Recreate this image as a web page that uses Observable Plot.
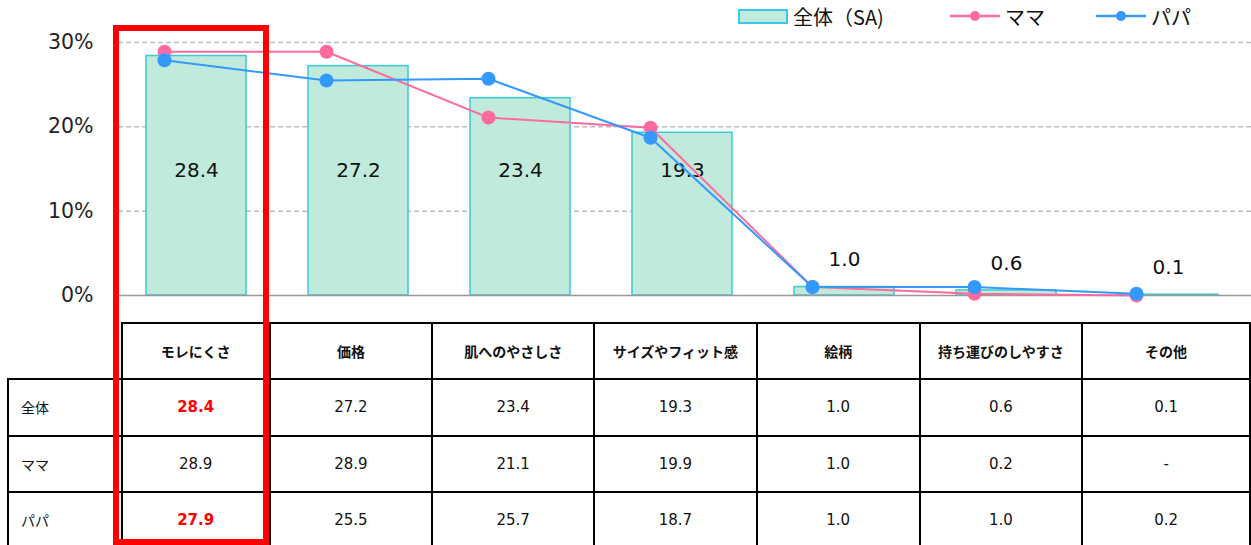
<!DOCTYPE html>
<html><head><meta charset="utf-8">
<script src="https://cdn.jsdelivr.net/npm/d3@7"></script>
<script src="https://cdn.jsdelivr.net/npm/@observablehq/plot@0.6"></script>
<style>
html,body{margin:0;padding:0;background:#fff;}
body{font-family:"DejaVu Sans","Noto Sans CJK JP",sans-serif;color:#111;}
#wrap{position:relative;width:1251px;height:545px;overflow:hidden;}
#legend{position:relative;height:34px;width:1251px;font-family:"Noto Sans CJK JP","DejaVu Sans",sans-serif;font-size:20px;}
#legend .item{position:absolute;top:4px;display:flex;align-items:center;height:24px;}
#legend .sw{width:46px;height:11px;background:#c0eadc;border:2px solid #38c8ee;margin-right:5px;}
#legend svg{margin-right:5px;}
#chart svg{display:block;}
table{position:absolute;left:7px;top:322px;border-collapse:collapse;table-layout:fixed;}
td{border:2px solid #000;text-align:center;font-size:15px;padding:0;font-family:"DejaVu Sans","Noto Sans CJK JP",sans-serif;}
tr.h td{font-family:"Noto Sans CJK JP",sans-serif;font-weight:bold;font-size:14px;height:54px;}
tr.h td.blank{border:none;}
tr.b td{height:54.5px;}
td.rl{text-align:left;padding-left:12px;font-family:"Noto Sans CJK JP",sans-serif;font-size:14px;}
td.hi{color:#ff0000;font-weight:bold;}
#redbox{position:absolute;left:113px;top:25px;width:156px;height:520px;border:6px solid #ff0000;box-sizing:border-box;pointer-events:none;}
</style>
</head><body>
<div id="wrap">
  <div id="legend"></div>
  <div id="chart"></div>
  <table id="tbl"></table>
  <div id="redbox"></div>
</div>
<script>
const categories = ["モレにくさ","価格","肌へのやさしさ","サイズやフィット感","絵柄","持ち運びのしやすさ","その他"];
const overall = [28.4, 27.2, 23.4, 19.3, 1.0, 0.6, 0.1];
const mama    = [28.9, 28.9, 21.1, 19.9, 1.0, 0.2, null];
const papa    = [27.9, 25.5, 25.7, 18.7, 1.0, 1.0, 0.2];
const seriesNames = ["全体（SA)", "ママ", "パパ"];
const rowLabels = ["全体", "ママ", "パパ"];
const yTicks = [0, 10, 20, 30];
const highlight = [[0,0],[2,0]]; // [row, col]
const labelLevel = 14.8; // inside-label level for tall bars

const pink = "#ff6b9f", blue = "#3399ff", barFill = "#c0eadc", barStroke = "#3ccad2";

const barData = categories.map((c,i)=>({cat:c, v:overall[i]}));
const mamaData = categories.map((c,i)=>({cat:c, v:mama[i] ?? 0}));
const papaData = categories.map((c,i)=>({cat:c, v:papa[i]}));

const plot = Plot.plot({
  width: 1251, height: 288,
  marginLeft: 118, marginRight: 0, marginTop: 8, marginBottom: 27,
  x: {domain: categories, range: [114, 1251], paddingInner: 0.38, paddingOuter: 0.19, axis: null},
  y: {domain: [0, 30], axis: null},
  style: {fontFamily: "DejaVu Sans, sans-serif", background: "#fff", overflow: "visible"},
  marks: [
    Plot.ruleY(yTicks.filter(d=>d>0), {stroke:"#bdbdbd", strokeWidth:1.5, strokeDasharray:"5,3"}),
    Plot.axisY({ticks: yTicks, tickFormat: d=>d+"%", tickSize:0, tickPadding:25, fontSize:20.5, fill:"#222", label:null}),
    Plot.barY(barData, {x:"cat", y:"v", fill:barFill, stroke:barStroke, strokeWidth:1.5}),
    Plot.ruleY([0], {stroke:"#999", strokeWidth:1.5}),
    Plot.text(barData.filter(d=>d.v>=5), {x:"cat", y:()=>labelLevel, text:d=>d.v.toFixed(1), fontSize:20, fill:"#111"}),
    Plot.text(barData.filter(d=>d.v<5), {x:"cat", y:"v", dy:-27, text:d=>d.v.toFixed(1), fontSize:20, fill:"#111"}),
    Plot.line(mamaData, {x:"cat", y:"v", stroke:pink, strokeWidth:2, dx:-32}),
    Plot.dot(mamaData, {x:"cat", y:"v", fill:pink, r:7, dx:-32}),
    Plot.line(papaData, {x:"cat", y:"v", stroke:blue, strokeWidth:2, dx:-32}),
    Plot.dot(papaData, {x:"cat", y:"v", fill:blue, r:7, dx:-32})
  ]
});
document.getElementById("chart").appendChild(plot);

// legend
const lg = document.getElementById("legend");
const legendItems = [
  {name: seriesNames[0], left: 738, type: "bar"},
  {name: seriesNames[1], left: 950, type: "line", color: pink},
  {name: seriesNames[2], left: 1096, type: "line", color: blue}
];
legendItems.forEach(it=>{
  const d = document.createElement("div");
  d.className = "item";
  d.style.left = it.left + "px";
  if (it.type === "bar") {
    const s = document.createElement("span"); s.className = "sw"; d.appendChild(s);
  } else {
    d.insertAdjacentHTML("beforeend", `<svg width="50" height="14"><line x1="0" x2="50" y1="7" y2="7" stroke="${it.color}" stroke-width="2.5"/><circle cx="25" cy="7" r="5" fill="${it.color}"/></svg>`);
  }
  const t = document.createElement("span"); t.textContent = it.name; d.appendChild(t);
  lg.appendChild(d);
});

// table
const colWidths = [114, 148, 163, 162, 163, 163, 163, 168];
const tbl = document.getElementById("tbl");
const cg = document.createElement("colgroup");
colWidths.forEach(w=>{const c=document.createElement("col"); c.style.width=w+"px"; cg.appendChild(c);});
tbl.appendChild(cg);
const hr = document.createElement("tr"); hr.className="h";
const blank = document.createElement("td"); blank.className="blank"; hr.appendChild(blank);
categories.forEach(c=>{const td=document.createElement("td"); td.textContent=c; hr.appendChild(td);});
tbl.appendChild(hr);
[overall, mama, papa].forEach((arr, r)=>{
  const tr = document.createElement("tr"); tr.className="b";
  const l = document.createElement("td"); l.className="rl"; l.textContent=rowLabels[r]; tr.appendChild(l);
  arr.forEach((v,c)=>{
    const td=document.createElement("td");
    td.textContent = v==null ? "-" : v.toFixed(1);
    if (highlight.some(([hr_,hc])=>hr_===r && hc===c)) td.className="hi";
    tr.appendChild(td);
  });
  tbl.appendChild(tr);
});
</script>
</body></html>
